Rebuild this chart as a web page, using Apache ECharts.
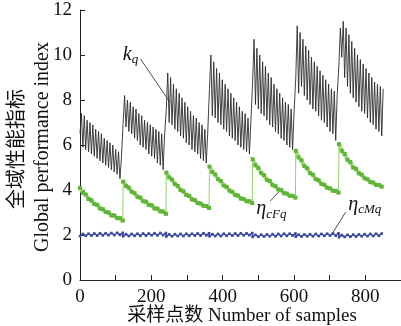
<!DOCTYPE html>
<html><head><meta charset="utf-8">
<script src="https://cdn.jsdelivr.net/npm/echarts@6/dist/echarts.min.js"></script>
<style>html,body{margin:0;padding:0;background:#fff}#c{width:401px;height:326px}</style>
</head><body><div id="c"></div>
<script>
// sample index where each operating segment starts
const segmentStarts = [0, 121, 242, 363, 484, 605, 726];

// k_q values, sampled every 4 samples inside each segment
const kqSeg1 = [6.5,7.4,5.9,7.3,5.8,7.1,5.7,7.0,5.6,6.9,5.5,6.7,5.4,6.6,5.3,6.5,5.2,6.3,5.1,6.2,5.0,6.1,4.9,6.0,4.8,5.8,4.7,5.7,4.5,5.4];
const kqSeg2 = [7.0,8.2,6.8,8.0,6.6,7.9,6.5,7.7,6.3,7.6,6.2,7.4,6.0,7.3,5.9,7.1,5.8,7.0,5.6,6.9,5.5,6.8,5.4,6.7,5.2,6.6,5.1,6.5,4.9,6.4];
const kqSeg3 = [7.6,9.2,7.0,9.0,6.9,8.7,6.7,8.5,6.6,8.3,6.4,8.1,6.3,7.9,6.1,7.7,6.0,7.5,5.8,7.3,5.7,7.2,5.6,7.0,5.4,6.9,5.3,6.7,5.2,6.5];
const kqSeg4 = [8.5,10.0,7.3,9.7,7.2,9.4,7.0,9.2,6.9,8.9,6.7,8.7,6.6,8.5,6.4,8.3,6.3,8.1,6.2,7.9,6.0,7.7,5.9,7.5,5.8,7.4,5.7,7.2,5.6,7.0];
const kqSeg5 = [8.8,10.7,7.8,10.3,7.6,10.0,7.4,9.7,7.3,9.5,7.1,9.2,6.9,9.0,6.8,8.7,6.6,8.5,6.5,8.3,6.3,8.1,6.2,7.9,6.0,7.8,5.9,7.6,5.8,7.4];
const kqSeg6 = [9.0,11.3,8.3,11.0,8.6,10.7,8.2,10.4,8.0,10.2,7.8,9.9,7.6,9.7,7.5,9.5,7.3,9.3,7.1,9.1,7.0,8.9,6.8,8.7,6.6,8.5,6.5,8.4,6.2,8.2];
const kqSeg7 = [9.6,11.2,9.9,11.5,9.0,11.2,8.6,10.9,8.3,10.6,8.1,10.3,7.9,10.0,7.7,9.8,7.5,9.6,7.4,9.4,7.2,9.2,7.0,9.0,6.9,8.8,6.7,8.7,6.6,8.6,6.4,8.5];

// eta_cFq values, every 8 samples inside each segment
const etaFSeg1 = [4.10,3.88,3.80,3.60,3.54,3.38,3.34,3.18,3.15,3.02,3.00,2.87,2.87,2.75,2.75,2.64];
const etaFSeg2 = [4.37,4.18,4.10,3.92,3.86,3.70,3.66,3.50,3.48,3.34,3.32,3.18,3.17,3.05,3.04,2.94];
const etaFSeg3 = [4.77,4.56,4.46,4.26,4.18,4.00,3.94,3.78,3.74,3.58,3.55,3.42,3.40,3.30,3.29,3.20];
const etaFSeg4 = [5.04,4.80,4.69,4.48,4.40,4.20,4.14,3.97,3.92,3.78,3.75,3.62,3.60,3.50,3.50,3.42];
const etaFSeg5 = [5.37,5.10,4.98,4.75,4.66,4.45,4.40,4.22,4.17,4.02,3.99,3.86,3.84,3.74,3.74,3.66];
const etaFSeg6 = [5.74,5.45,5.32,5.06,4.97,4.75,4.68,4.48,4.43,4.27,4.23,4.10,4.07,3.97,3.96,3.88];
const etaFSeg7 = [6.04,5.74,5.60,5.34,5.24,5.00,4.94,4.74,4.68,4.52,4.48,4.35,4.33,4.23,4.22,4.15];

// eta_cMq values, every 8 samples inside each segment
const etaMSeg1 = [1.95,2.05,1.96,2.06,1.97,2.07,1.97,2.08,1.98,2.08,1.99,2.09,1.99,2.10,2.00,2.10];
const etaMSeg2 = [1.94,2.04,1.95,2.05,1.96,2.06,1.96,2.07,1.97,2.07,1.98,2.08,1.98,2.09,1.99,2.09];
const etaMSeg3 = [1.93,2.03,1.94,2.04,1.95,2.05,1.95,2.06,1.96,2.06,1.97,2.07,1.97,2.08,1.98,2.08];
const etaMSeg4 = [1.94,2.04,1.95,2.05,1.95,2.06,1.96,2.06,1.97,2.07,1.97,2.08,1.98,2.08,1.99,2.09];
const etaMSeg5 = [1.91,2.01,1.92,2.02,1.93,2.03,1.94,2.04,1.94,2.05,1.95,2.06,1.96,2.06,1.97,2.07];
const etaMSeg6 = [1.92,2.02,1.93,2.03,1.94,2.04,1.94,2.05,1.95,2.05,1.96,2.06,1.97,2.07,1.97,2.08];
const etaMSeg7 = [1.90,2.00,1.91,2.01,1.92,2.02,1.93,2.03,1.94,2.04,1.95,2.05,1.95,2.06,1.96,2.07];

const xTickLabels = [0, 200, 400, 600, 800];
const yTickLabels = [0, 2, 4, 6, 8, 10, 12];

function build(segs, step, gaps) {
  const out = [];
  segs.forEach((seg, k) => {
    if (gaps && k > 0) out.push([segmentStarts[k] - 0.5, null]);
    seg.forEach((v, j) => out.push([segmentStarts[k] + step * j, v]));
  });
  return out;
}
const kqSegs = [kqSeg1,kqSeg2,kqSeg3,kqSeg4,kqSeg5,kqSeg6,kqSeg7];
const etaFSegs = [etaFSeg1,etaFSeg2,etaFSeg3,etaFSeg4,etaFSeg5,etaFSeg6,etaFSeg7];
const etaMSegs = [etaMSeg1,etaMSeg2,etaMSeg3,etaMSeg4,etaMSeg5,etaMSeg6,etaMSeg7];

const FONT = '"Liberation Serif","Times New Roman","Noto Sans CJK SC",serif';
const chart = echarts.init(document.getElementById('c'), null, {renderer: 'canvas'});
chart.setOption({
  animation: false,
  backgroundColor: '#fff',
  grid: {left: 80, top: 10, bottom: 46, right: -1.5, containLabel: false},
  xAxis: {
    type: 'value', min: 0, max: 900, interval: 100,
    axisLine: {lineStyle: {color: '#222', width: 1}},
    axisTick: {inside: true, length: 5, lineStyle: {color: '#222'}},
    splitLine: {show: false},
    axisLabel: {
      showMaxLabel: false, margin: 8, color: '#111', fontFamily: FONT, fontSize: 19,
      formatter: v => xTickLabels.indexOf(v) >= 0 ? String(v) : ''
    }
  },
  yAxis: {
    type: 'value', min: 0, max: 12, interval: 2,
    axisLine: {show: true, lineStyle: {color: '#222', width: 1}},
    axisTick: {show: true, inside: true, length: 5, lineStyle: {color: '#222'}},
    splitLine: {show: false},
    axisLabel: {margin: 8, color: '#111', fontFamily: FONT, fontSize: 19,
      formatter: v => yTickLabels.indexOf(v) >= 0 ? String(v) : ''}
  },
  series: [
    {name: 'kq', type: 'line', data: build(kqSegs, 4, false), symbol: 'none',
     lineStyle: {color: '#2b2b2b', width: 0.9}},
    {name: 'etaCFq-link', type: 'line', data: build(etaFSegs, 8, false), symbol: 'none',
     lineStyle: {color: '#8fd468', width: 1}},
    {name: 'etaCFq', type: 'line', data: build(etaFSegs, 8, true), symbol: 'rect', symbolSize: 4,
     connectNulls: false,
     itemStyle: {color: '#5fb536'}, lineStyle: {color: '#a6dc86', width: 4}},
    {name: 'etaCMq', type: 'line', data: build(etaMSegs, 8, false), symbol: 'rect', symbolSize: 2.5,
     itemStyle: {color: '#3a48a0'}, lineStyle: {color: '#3d4ba2', width: 1.6}}
  ]
});

// annotation anchors in data units
const notes = [
  {main: 'k', sub: 'q', text: [145, 10.0], from: [170, 9.82], to: [252, 7.9]},
  {main: 'η', sub: 'cFq', text: [522, 3.15], from: [533, 3.5], to: [568, 4.1]},
  {main: 'η', sub: 'cMq', text: [780, 3.35], from: [745, 3.02], to: [706, 2.03]}
];
const P = p => chart.convertToPixel({gridIndex: 0}, p);
const g = [];
notes.forEach(n => {
  const t = P(n.text), a = P(n.from), b = P(n.to);
  g.push({type: 'line', shape: {x1: a[0], y1: a[1], x2: b[0], y2: b[1]}, style: {stroke: '#222', lineWidth: 0.8}});
  g.push({type: 'text', x: t[0], y: t[1], style: {text: n.main, font: 'italic 20px ' + FONT, fill: '#111', align: 'right', verticalAlign: 'middle'}});
  g.push({type: 'text', x: t[0], y: t[1] + 5, style: {text: n.sub, font: 'italic 13px ' + FONT, fill: '#111', align: 'left', verticalAlign: 'middle'}});
});
g.push({type: 'text', x: 18, y: 149, rotation: Math.PI / 2,
  style: {text: '全域性能指标', font: '20px ' + FONT, fill: '#111', align: 'center', verticalAlign: 'middle'}});
g.push({type: 'text', x: 43, y: 147, rotation: Math.PI / 2,
  style: {text: 'Global performance index', font: '20px ' + FONT, fill: '#111', align: 'center', verticalAlign: 'middle'}});
g.push({type: 'text', x: 242, y: 316,
  style: {text: '采样点数 Number of samples', font: '19px ' + FONT, fill: '#111', align: 'center', verticalAlign: 'middle'}});
chart.setOption({graphic: g});
</script>
</body></html>
